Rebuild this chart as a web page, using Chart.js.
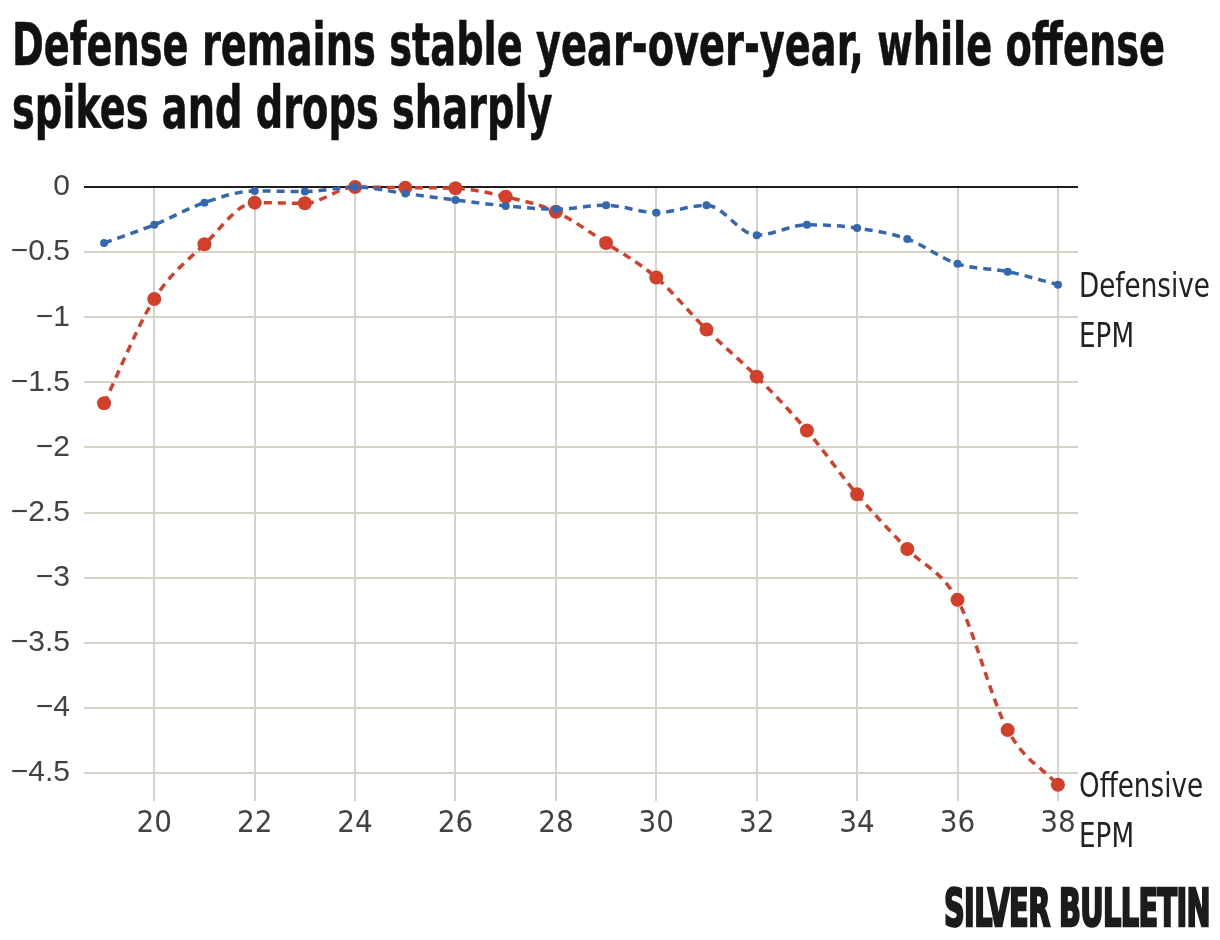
<!DOCTYPE html>
<html>
<head>
<meta charset="utf-8">
<script src="https://cdn.jsdelivr.net/npm/chart.js@4.4.1/dist/chart.umd.min.js"></script>
<style>
  html, body { margin: 0; padding: 0; background: #ffffff; }
  body { width: 1220px; height: 940px; position: relative; overflow: hidden; }
  #title {
    position: absolute; left: 12px; top: 14px;
    font-family: "Liberation Sans Narrow", "DejaVu Sans Condensed", "Roboto", sans-serif;
    font-weight: bold; font-size: 58px; line-height: 63px; color: #111;
    white-space: nowrap; transform-origin: 0 0; -webkit-text-stroke: 0.6px #111;
  }
  #source {
    position: absolute; left: 944px; top: 880px;
    font-family: "Liberation Sans Narrow", "DejaVu Sans Condensed", sans-serif;
    font-weight: bold; font-size: 52px; line-height: 56px; color: #1c1c1c;
    -webkit-text-stroke: 2.5px #1c1c1c; white-space: nowrap; transform-origin: 0 0;
    letter-spacing: -1px;
  }
  #wrap { position: absolute; left: 0; top: 0; width: 1220px; height: 940px; }
</style>
</head>
<body>
<div id="wrap"><canvas id="c" width="1220" height="940"></canvas></div>
<div id="title"><span id="t1">Defense remains stable year-over-year, while offense</span><br><span id="t2">spikes and drops sharply</span></div>
<div id="source"><span id="s1">SILVER BULLETIN</span></div>
<script>
const ages = [19, 20, 21, 22, 23, 24, 25, 26, 27, 28, 29, 30, 31, 32, 33, 34, 35, 36, 37, 38];
const defensiveEPM = [-0.43, -0.29, -0.12, -0.03, -0.035, 0, -0.05, -0.10, -0.145, -0.17, -0.14, -0.197, -0.14, -0.37, -0.29, -0.315, -0.40, -0.59, -0.65, -0.75];
const offensiveEPM = [-1.66, -0.86, -0.44, -0.12, -0.125, 0, -0.005, -0.01, -0.075, -0.19, -0.43, -0.695, -1.095, -1.456, -1.87, -2.36, -2.78, -3.17, -4.17, -4.59];
const xTickValues = [20, 22, 24, 26, 28, 30, 32, 34, 36, 38];
const yTickValues = [0, -0.5, -1, -1.5, -2, -2.5, -3, -3.5, -4, -4.5];
const seriesLabels = [["Defensive", "EPM"], ["Offensive", "EPM"]];

const RED = '#d2402b';
const BLUE = '#3468ae';
const GRID = '#d7d2c8';
const NARROW = '"Liberation Sans Narrow", "DejaVu Sans Condensed", sans-serif';

function fitWidth(el, span, target) {
  const w = span.getBoundingClientRect().width;
  if (w > 0) el.style.transform = 'scaleX(' + (target / w) + ')';
}
fitWidth(document.getElementById('title'), document.getElementById('t1'), 1153);
fitWidth(document.getElementById('source'), document.getElementById('s1'), 266);

const endLabels = {
  id: 'endLabels',
  afterDatasetsDraw(chart) {
    const ctx = chart.ctx;
    ctx.save();
    ctx.font = '34px ' + NARROW;
    ctx.fillStyle = '#222';
    ctx.textAlign = 'left';
    ctx.textBaseline = 'middle';
    const sx = Math.min(1, 131 / ctx.measureText('Defensive').width);
    chart.data.datasets.forEach((ds, i) => {
      const meta = chart.getDatasetMeta(i);
      const pt = meta.data[meta.data.length - 1];
      seriesLabels[i].forEach((ln, j) => {
        ctx.save();
        ctx.translate(chart.chartArea.right + 1, pt.y + 3 + j * 50);
        ctx.scale(sx, 1);
        ctx.fillText(ln, 0, 0);
        ctx.restore();
      });
    });
    ctx.restore();
  }
};

new Chart(document.getElementById('c'), {
  type: 'line',
  data: {
    datasets: [
      {
        label: 'Defensive EPM',
        data: ages.map((a, i) => ({ x: a, y: defensiveEPM[i] })),
        borderColor: BLUE, backgroundColor: BLUE,
        borderWidth: 3.5, borderDash: [8, 6],
        pointRadius: 4, pointHoverRadius: 4, pointBorderWidth: 0,
        cubicInterpolationMode: 'monotone', clip: false
      },
      {
        label: 'Offensive EPM',
        data: ages.map((a, i) => ({ x: a, y: offensiveEPM[i] })),
        borderColor: RED, backgroundColor: RED,
        borderWidth: 3.5, borderDash: [8, 6],
        pointRadius: 7, pointHoverRadius: 7, pointBorderWidth: 0,
        cubicInterpolationMode: 'monotone', clip: false
      }
    ]
  },
  options: {
    responsive: false,
    animation: false,
    devicePixelRatio: 1,
    layout: { padding: { left: 0, right: 142, top: 187, bottom: 0 } },
    plugins: { legend: { display: false }, tooltip: { enabled: false }, title: { display: false } },
    scales: {
      x: {
        type: 'linear', min: 18.6, max: 38.4,
        afterBuildTicks: (s) => { s.ticks = xTickValues.map(v => ({ value: v })); },
        afterFit: (s) => { s.height = 150; },
        border: { display: false },
        grid: { color: GRID, lineWidth: 2, tickLength: 11, drawTicks: true },
        ticks: {
          autoSkip: false, maxRotation: 0, padding: 4,
          font: { family: NARROW, size: 31 }, color: '#45413d',
          callback: (v) => String(v)
        }
      },
      y: {
        type: 'linear', min: -4.63, max: 0,
        afterBuildTicks: (s) => { s.ticks = yTickValues.map(v => ({ value: v })); },
        afterFit: (s) => { s.width = 84; },
        border: { display: false },
        grid: {
          drawTicks: false, lineWidth: 2,
          color: (c) => (c.tick && c.tick.value === 0 ? '#1e1e1e' : GRID)
        },
        ticks: {
          autoSkip: false, padding: 14,
          font: { family: '"Liberation Sans", Arial, sans-serif', size: 30 }, color: '#45413d',
          callback: (v) => (v === 0 ? '0' : String(v).replace('-', '\u2212'))
        }
      }
    }
  },
  plugins: [endLabels]
});
</script>
</body>
</html>
